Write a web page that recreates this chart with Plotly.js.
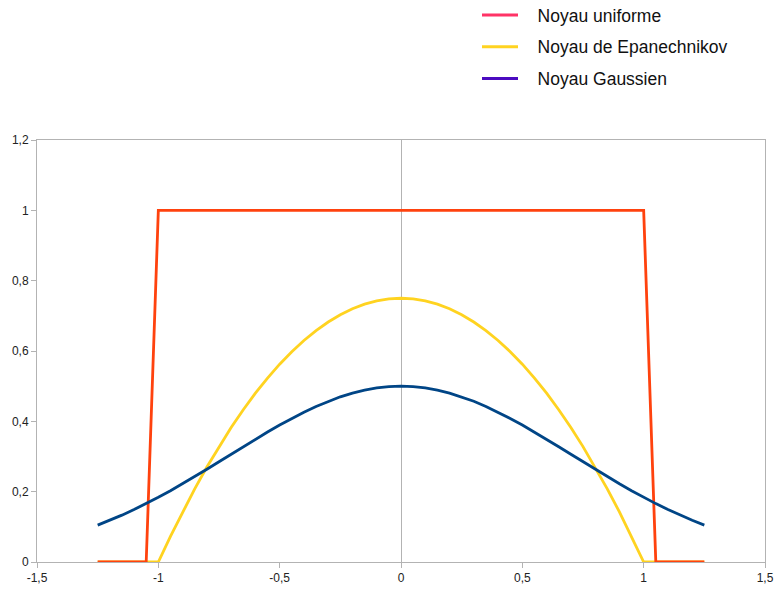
<!DOCTYPE html>
<html>
<head>
<meta charset="utf-8">
<script src="https://cdn.plot.ly/plotly-3.0.1.min.js"></script>
<style>html,body{margin:0;padding:0;background:#fff;}#chart{width:774px;height:590px;}</style>
</head>
<body>
<div id="chart"></div>
<script>
var xValues = [-1.25,-1.2,-1.15,-1.1,-1.05,-1,-0.95,-0.9,-0.85,-0.8,-0.75,-0.7,-0.65,-0.6,-0.55,-0.5,-0.45,-0.4,-0.35,-0.3,-0.25,-0.2,-0.15,-0.1,-0.05,0,0.05,0.1,0.15,0.2,0.25,0.3,0.35,0.4,0.45,0.5,0.55,0.6,0.65,0.7,0.75,0.8,0.85,0.9,0.95,1,1.05,1.1,1.15,1.2,1.25];
var uniforme = [0,0,0,0,0,1,1,1,1,1,1,1,1,1,1,1,1,1,1,1,1,1,1,1,1,1,1,1,1,1,1,1,1,1,1,1,1,1,1,1,1,1,1,1,1,1,0,0,0,0,0];
var epanechnikov = [0,0,0,0,0,0,0.0731,0.1425,0.2081,0.27,0.3281,0.3825,0.4331,0.48,0.5231,0.5625,0.5981,0.63,0.6581,0.6825,0.7031,0.72,0.7331,0.7425,0.7481,0.75,0.7481,0.7425,0.7331,0.72,0.7031,0.6825,0.6581,0.63,0.5981,0.5625,0.5231,0.48,0.4331,0.3825,0.3281,0.27,0.2081,0.1425,0.0731,0,0,0,0,0,0];
var gaussien = [0.1048,0.1185,0.1332,0.1491,0.1660,0.1839,0.2028,0.2224,0.2428,0.2636,0.2849,0.3063,0.3277,0.3488,0.3695,0.3894,0.4083,0.4261,0.4424,0.4570,0.4697,0.4804,0.4889,0.4950,0.4988,0.5,0.4988,0.4950,0.4889,0.4804,0.4697,0.4570,0.4424,0.4261,0.4083,0.3894,0.3695,0.3488,0.3277,0.3063,0.2849,0.2636,0.2428,0.2224,0.2028,0.1839,0.1660,0.1491,0.1332,0.1185,0.1048];
var seriesNames = ['Noyau uniforme','Noyau de Epanechnikov','Noyau Gaussien'];
var xTicks = [-1.5,-1,-0.5,0,0.5,1,1.5];
var xTickLabels = ['-1,5','-1','-0,5','0','0,5','1','1,5'];
var yTicks = [0,0.2,0.4,0.6,0.8,1,1.2];
var yTickLabels = ['0','0,2','0,4','0,6','0,8','1','1,2'];

var pad = '\u00a0\u00a0\u00a0';
var traces = [
  {x: xValues, y: epanechnikov, mode:'lines', line:{color:'#ffd320', width:2.8}, showlegend:false, hoverinfo:'skip'},
  {x: xValues, y: uniforme, mode:'lines', line:{color:'#ff420e', width:2.8}, showlegend:false, hoverinfo:'skip'},
  {x: xValues, y: gaussien, mode:'lines', line:{color:'#004586', width:2.8}, showlegend:false, hoverinfo:'skip'},
  {x:[null], y:[null], mode:'lines', name: pad + seriesNames[0], line:{color:'#ff3366', width:3}, legendgroup:'a'},
  {x:[null], y:[null], mode:'lines', name: pad + seriesNames[1], line:{color:'#ffd320', width:3}, legendgroup:'b'},
  {x:[null], y:[null], mode:'lines', name: pad + seriesNames[2], line:{color:'#4b0bc0', width:3}, legendgroup:'c'}
];

var axisCommon = {
  showline:true, linecolor:'#b3b3b3', linewidth:1, mirror:true,
  ticks:'outside', ticklen:5, tickcolor:'#b3b3b3', tickwidth:1,
  showgrid:false, tickfont:{family:'Liberation Sans, Arial, sans-serif', size:12, color:'#222'},
  fixedrange:true, tickmode:'array'
};

var layout = {
  width:774, height:590,
  margin:{l:37, r:9, t:140, b:28, autoexpand:false},
  paper_bgcolor:'#ffffff', plot_bgcolor:'#ffffff',
  separators:', ',
  font:{family:'Liberation Sans, Arial, sans-serif'},
  xaxis: Object.assign({}, axisCommon, {range:[-1.5,1.5], tickvals:xTicks, ticktext:xTickLabels, zeroline:true, zerolinecolor:'#b3b3b3', zerolinewidth:1}),
  yaxis: Object.assign({}, axisCommon, {range:[0,1.2], tickvals:yTicks, ticktext:yTickLabels, zeroline:false}),
  legend:{xref:'paper', yref:'paper', x:(477-37)/728, y:1+(140+3)/422, xanchor:'left', yanchor:'top',
          font:{family:'Liberation Sans, Arial, sans-serif', size:17.5, color:'#111'},
          bgcolor:'rgba(0,0,0,0)', borderwidth:0, tracegroupgap:6, itemwidth:36, traceorder:'grouped'},
  showlegend:true
};

Plotly.newPlot('chart', traces, layout, {displayModeBar:false, staticPlot:true});
</script>
</body>
</html>
